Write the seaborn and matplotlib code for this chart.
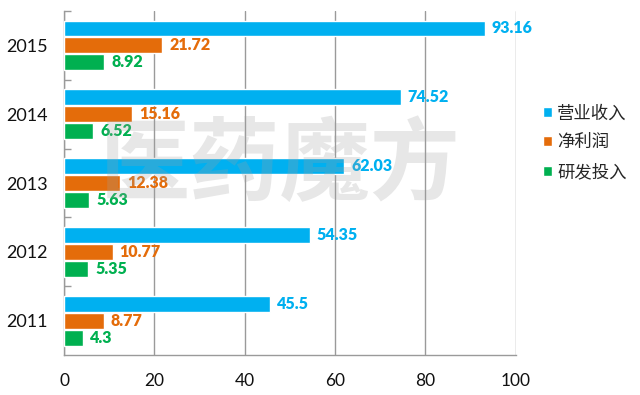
import pandas as pd
import matplotlib
matplotlib.use("Agg")
import matplotlib.pyplot as plt
import seaborn as sns

sns.set_theme(style="white")
plt.rcParams['font.family'] = ['Lato', 'Noto Sans CJK SC', 'DejaVu Sans']

years = ['2015', '2014', '2013', '2012', '2011']
series = ['营业收入', '净利润', '研发投入']
revenue = [93.16, 74.52, 62.03, 54.35, 45.5]
profit = [21.72, 15.16, 12.38, 10.77, 8.77]
rnd = [8.92, 6.52, 5.63, 5.35, 4.3]
colors = ['#00B0F0', '#E46C0A', '#00B050']

df = pd.DataFrame({
    'year': years * 3,
    'series': [s for s in series for _ in years],
    'value': revenue + profit + rnd,
})

fig = plt.figure(figsize=(6.4, 3.95), dpi=100)
ax = fig.add_axes([0.1, 0.101, 0.706, 0.871])

sns.barplot(data=df, x='value', y='year', hue='series', order=years,
            hue_order=series, palette=colors, orient='h', width=0.74,
            gap=0.06, saturation=1, ax=ax, zorder=3)

for cont, col in zip(ax.containers, colors):
    ax.bar_label(cont, labels=[f"{v:g}" for v in cont.datavalues],
                 padding=5, color=col, fontsize=11.5, fontweight='heavy')

# watermark
ax.text(0.478, 0.55, '医药魔方', transform=ax.transAxes, ha='center',
        va='center', fontsize=65, fontweight='bold', color='#a0a0a0',
        alpha=0.25, family=['Noto Sans CJK SC'], zorder=5)

ax.set_xlim(0, 100)
ax.set_ylim(4.5, -0.5)
ax.set_xticks([0, 20, 40, 60, 80, 100])
ax.xaxis.grid(True, color='#9a9a9a', linewidth=1)
ax.set_axisbelow(True)
ax.set_xlabel('')
ax.set_ylabel('')
ax.tick_params(axis='x', length=0, pad=13, labelsize=12.5, colors='#111111')
ax.tick_params(axis='y', length=0, pad=12, labelsize=13, colors='#111111')
ax.set_yticks([i - 0.5 for i in range(5)], minor=True)
ax.tick_params(axis='y', which='minor', direction='in', length=5,
               color='#9a9a9a', left=True)

for side in ['top', 'right']:
    ax.spines[side].set_visible(False)
for side in ['left', 'bottom']:
    ax.spines[side].set_color('#9a9a9a')
    ax.spines[side].set_linewidth(1)

handles, labels = ax.get_legend_handles_labels()
ax.legend(handles, labels, loc='upper left', bbox_to_anchor=(0.838, 0.752),
          bbox_transform=fig.transFigure, frameon=False, fontsize=12.5,
          handlelength=0.5, handleheight=0.5, handletextpad=0.3,
          labelspacing=0.75, borderaxespad=0)

fig.savefig('out.png', dpi=100)
